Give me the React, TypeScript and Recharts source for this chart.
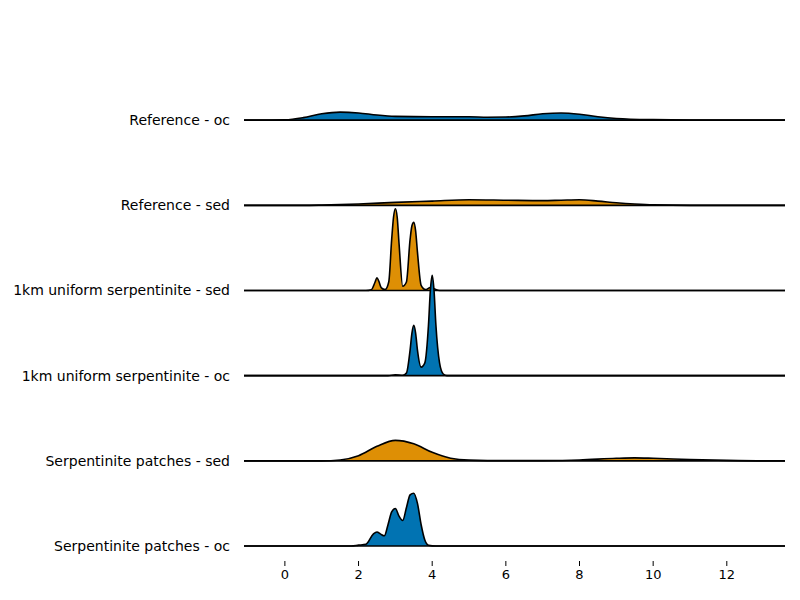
import React from 'react'
import { ComposedChart, Area, XAxis, YAxis } from 'recharts'

const rowNames = [
  'Reference - oc',
  'Reference - sed',
  '1km uniform serpentinite - sed',
  '1km uniform serpentinite - oc',
  'Serpentinite patches - sed',
  'Serpentinite patches - oc',
]
const rowColors = ['#0173b2', '#de8f05', '#de8f05', '#0173b2', '#de8f05', '#0173b2']
const xTicks = [0, 2, 4, 6, 8, 10, 12]

// [x, height] pairs, height in row units
const refOc = [[-1.2, 0], [0, 0.005], [0.5, 0.03], [1, 0.075], [1.5, 0.095], [2, 0.085], [2.5, 0.06], [3, 0.045], [4, 0.04], [5, 0.04], [5.5, 0.035], [6, 0.037], [6.5, 0.05], [7, 0.075], [7.5, 0.085], [8, 0.07], [8.5, 0.04], [9, 0.02], [10, 0.006], [11, 0.002], [13.7, 0]]
const refSed = [[-1.2, 0], [0.5, 0], [1, 0.003], [2, 0.015], [3, 0.035], [4, 0.05], [5, 0.065], [6, 0.06], [7, 0.055], [7.5, 0.06], [8, 0.065], [8.5, 0.05], [9, 0.03], [9.5, 0.015], [10, 0.005], [11, 0], [13.7, 0]]
const uniSed = [[-1.2, 0], [2.2, 0], [2.35, 0.01], [2.45, 0.1], [2.5, 0.15], [2.55, 0.11], [2.62, 0.03], [2.72, 0.01], [2.82, 0.1], [2.9, 0.6], [2.95, 0.86], [3.0, 0.96], [3.05, 0.86], [3.1, 0.55], [3.2, 0.05], [3.3, 0.1], [3.4, 0.6], [3.45, 0.76], [3.5, 0.8], [3.55, 0.7], [3.6, 0.45], [3.7, 0.06], [3.82, 0.01], [3.95, 0.035], [4.05, 0.02], [4.2, 0], [13.7, 0]]
const uniOc = [[-1.2, 0], [2.8, 0], [3.0, 0.01], [3.2, 0.005], [3.3, 0.03], [3.4, 0.3], [3.45, 0.5], [3.5, 0.59], [3.55, 0.5], [3.6, 0.3], [3.7, 0.1], [3.8, 0.15], [3.9, 0.6], [3.95, 1.0], [4.0, 1.18], [4.05, 1.0], [4.1, 0.6], [4.2, 0.15], [4.3, 0.02], [4.4, 0], [13.7, 0]]
const patchSed = [[-1.2, 0], [1, 0], [1.5, 0.01], [2, 0.06], [2.5, 0.17], [3, 0.24], [3.5, 0.2], [4, 0.1], [4.5, 0.03], [5, 0.008], [6, 0.002], [7, 0.003], [8, 0.01], [9, 0.03], [9.5, 0.035], [10, 0.03], [11, 0.015], [12, 0.005], [13, 0], [13.7, 0]]
const patchOc = [[-1.2, 0], [1.8, 0], [2.0, 0.01], [2.2, 0.02], [2.4, 0.14], [2.5, 0.165], [2.6, 0.14], [2.7, 0.12], [2.8, 0.25], [2.9, 0.4], [3.0, 0.44], [3.1, 0.35], [3.2, 0.3], [3.3, 0.45], [3.4, 0.6], [3.5, 0.62], [3.6, 0.5], [3.7, 0.25], [3.8, 0.07], [3.9, 0.01], [4.1, 0], [13.7, 0]]

const rows = [refOc, refSed, uniSed, uniOc, patchSed, patchOc]

export default function App() {
  return (
    <div style={{ position: 'absolute', left: 0, top: 0, background: '#fff' }}>
      <ComposedChart width={800} height={600} margin={{ top: 35, right: 15, bottom: 9, left: 0 }}>
        <XAxis
          dataKey="x"
          type="number"
          domain={[-1.11, 13.58]}
          allowDataOverflow
          ticks={xTicks}
          axisLine={false}
          tickSize={5}
          tickMargin={4}
          tickLine={{ stroke: '#000' }}
          height={30}
          tick={{ fontSize: 13, fill: '#000', fontFamily: 'DejaVu Sans' }}
        />
        <YAxis
          type="number"
          domain={[-0.176, 6]}
          allowDataOverflow
          ticks={[0, 1, 2, 3, 4, 5]}
          tickFormatter={(v: number) => rowNames[5 - v]}
          width={244}
          axisLine={false}
          tickLine={false}
          tickMargin={8}
          tick={{ fontSize: 14, fill: '#000', fontFamily: 'DejaVu Sans' }}
        />
        {rows.map((pts, i) => {
          const base = 5 - i
          const data = pts.map(([x, h]) => ({ x, h }))
          return (
            <Area
              key={rowNames[i]}
              data={data}
              dataKey={(d: any) => [base, base + d.h]}
              type="monotone"
              fill={rowColors[i]}
              fillOpacity={1}
              stroke="#000"
              strokeWidth={1.6}
              isAnimationActive={false}
              dot={false}
              activeDot={false}
            />
          )
        })}
      </ComposedChart>
    </div>
  )
}
